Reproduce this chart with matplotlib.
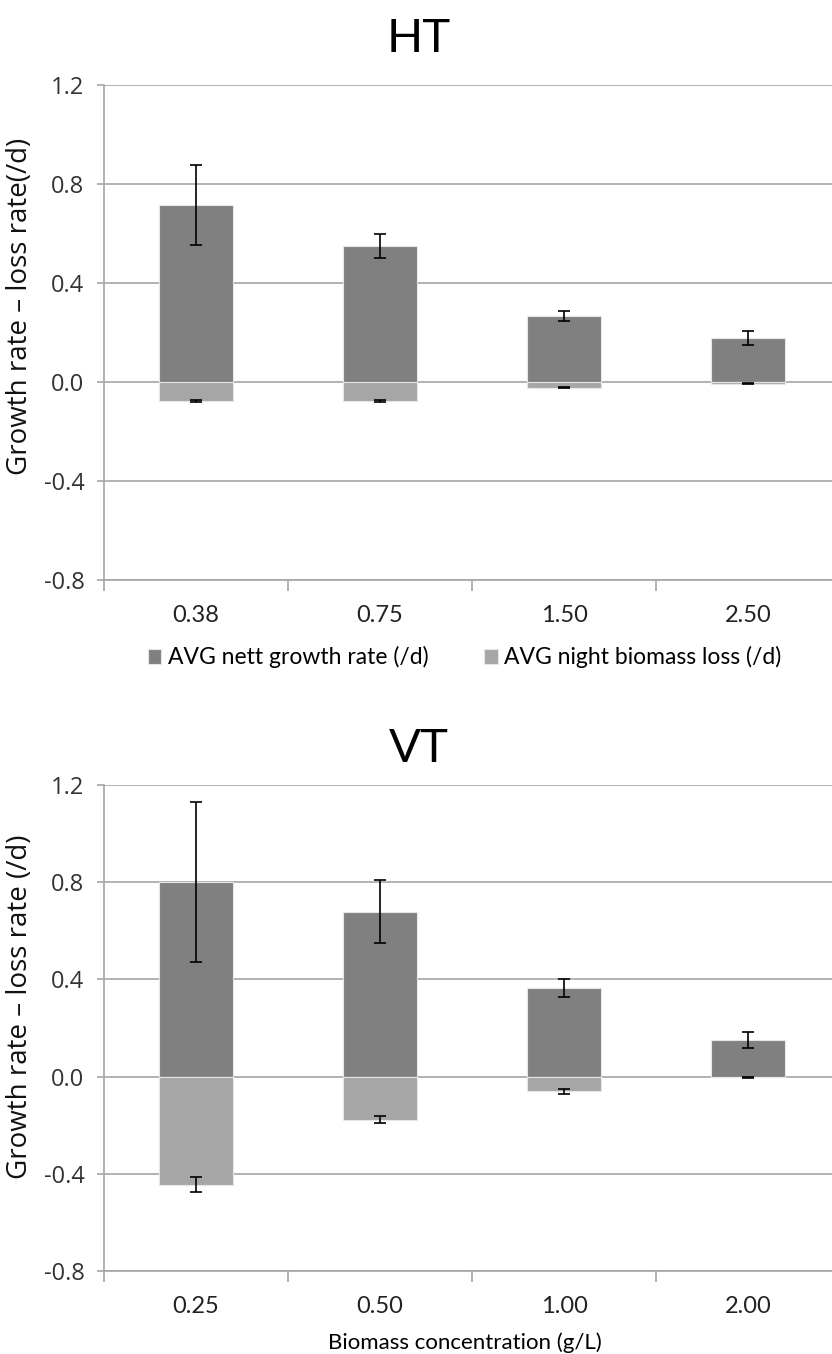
import numpy as np
import matplotlib
matplotlib.use('Agg')
from matplotlib import pyplot as plt
from matplotlib.ticker import FixedLocator, NullFormatter

# HT panel
ht_labels = ['0.38', '0.75', '1.50', '2.50']
ht_growth = [0.715, 0.55, 0.267, 0.178]
ht_growth_err = [0.16, 0.048, 0.02, 0.03]
ht_loss = [-0.077, -0.077, -0.024, -0.006]
ht_loss_err = [0.003, 0.003, 0.002, 0.002]

# VT panel
vt_labels = ['0.25', '0.50', '1.00', '2.00']
vt_growth = [0.80, 0.679, 0.366, 0.152]
vt_growth_err = [0.33, 0.128, 0.037, 0.033]
vt_loss = [-0.445, -0.178, -0.061, -0.003]
vt_loss_err = [0.031, 0.014, 0.01, 0.002]

dark = '#808080'
light = '#a6a6a6'
gridc = '#a6a6a6'
narrow = ['Lato', 'DejaVu Sans']
wide = ['Open Sans', 'DejaVu Sans']


def draw_panel(ax, labels, growth, gerr, loss, lerr, ylabel, ylab_y):
    x = np.arange(len(labels))
    ax.bar(x, growth, width=0.4, color=dark, edgecolor='#e6e6e6', linewidth=0.8,
           label='AVG nett growth rate (/d)', zorder=3)
    ax.bar(x, loss, width=0.4, color=light, edgecolor='#e6e6e6', linewidth=0.8,
           label='AVG night biomass loss (/d)', zorder=3)
    ax.errorbar(x, growth, yerr=gerr, fmt='none', ecolor='black', elinewidth=1.2,
                capsize=4.5, capthick=1.2, zorder=4)
    ax.errorbar(x, loss, yerr=lerr, fmt='none', ecolor='black', elinewidth=1.2,
                capsize=4.5, capthick=1.2, zorder=4)

    ax.set_xlim(-0.5, 3.5)
    ax.set_ylim(-0.8, 1.2)
    ax.set_yticks([-0.8, -0.4, 0.0, 0.4, 0.8, 1.2])
    ax.set_yticklabels(['-0.8', '-0.4', '0.0', '0.4', '0.8', '1.2'])
    ax.yaxis.grid(True, color=gridc, linewidth=1.2, zorder=0)
    ax.set_axisbelow(True)

    ax.set_xticks(x)
    ax.set_xticklabels(labels, fontfamily=narrow, fontsize=17, color='#222222')
    ax.xaxis.set_minor_locator(FixedLocator([-0.5, 0.5, 1.5, 2.5]))
    ax.xaxis.set_minor_formatter(NullFormatter())
    ax.tick_params(axis='x', which='major', length=0, pad=18)
    ax.tick_params(axis='x', which='minor', length=8, color=gridc, width=1.2, direction='out')
    ax.tick_params(axis='y', length=5, color=gridc, width=1.2, pad=9, labelsize=17,
                   labelcolor='#333333')
    for t in ax.get_yticklabels():
        t.set_fontfamily(wide)

    for s in ['top', 'right']:
        ax.spines[s].set_visible(False)
    ax.spines['left'].set_color(gridc)
    ax.spines['left'].set_linewidth(1.2)
    ax.spines['bottom'].set_color(gridc)
    ax.spines['bottom'].set_linewidth(1.2)

    ax.set_ylabel(ylabel, fontfamily=wide, fontsize=20, color='#111111')
    ax.yaxis.set_label_coords(-0.095, ylab_y)


fig = plt.figure(figsize=(8.32, 13.54), dpi=100)
ax1 = fig.add_axes([0.125, 0.5716, 0.8846, 0.3656])
ax2 = fig.add_axes([0.125, 0.0613, 0.8846, 0.359])

draw_panel(ax1, ht_labels, ht_growth, ht_growth_err, ht_loss, ht_loss_err,
           'Growth rate \u2013 loss rate(/d)', 0.552)
draw_panel(ax2, vt_labels, vt_growth, vt_growth_err, vt_loss, vt_loss_err,
           'Growth rate \u2013 loss rate (/d)', 0.543)

fig.text(0.503, 1 - 39 / 1354, 'HT', ha='center', va='center', fontfamily=narrow, fontsize=34)
fig.text(0.503, 1 - 749 / 1354, 'VT', ha='center', va='center', fontfamily=narrow, fontsize=34)

ax1.legend(loc='center', bbox_to_anchor=(0.49, -0.156), ncol=2, frameon=False,
           prop={'family': narrow, 'size': 16.5}, handlelength=0.6, handleheight=0.6,
           handletextpad=0.3, columnspacing=2.4)

ax2.set_xlabel('Biomass concentration (g/L)', fontfamily=narrow, fontsize=16)
ax2.xaxis.set_label_coords(0.49, -0.127)

fig.savefig('out.png', dpi=100)
